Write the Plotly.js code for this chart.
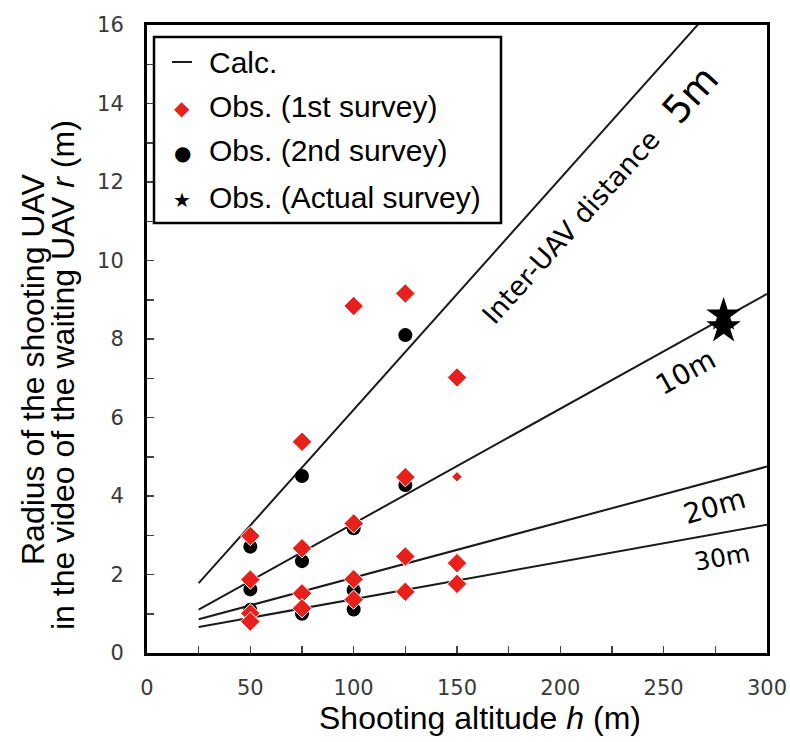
<!DOCTYPE html>
<html>
<head>
<meta charset="utf-8">
<script src="https://cdn.plot.ly/plotly-3.0.1.min.js"></script>
<style>html,body{margin:0;padding:0;background:#fff;}</style>
</head>
<body>
<div id="chart" style="width:790px;height:742px;"></div>
<script>
// Calculated lines (inter-UAV distance 5, 10, 20, 30 m)
const h_calc = [25, 300];
const r_calc_5m = [1.78, 17.98];
const r_calc_10m = [1.105, 9.15];
const r_calc_20m = [0.86, 4.75];
const r_calc_30m = [0.66, 3.27];

// Observations, 1st survey
const h_obs1 = [50, 50, 50, 50, 75, 75, 75, 75, 100, 100, 100, 100, 125, 125, 125, 125, 150, 150, 150, 150];
const r_obs1 = [2.98, 1.87, 1.01, 0.80, 5.38, 2.67, 1.52, 1.14, 8.84, 3.30, 1.88, 1.36, 9.16, 4.48, 2.46, 1.56, 7.02, 4.49, 2.29, 1.76];

// Observations, 2nd survey
const h_obs2 = [50, 50, 50, 75, 75, 75, 100, 100, 100, 125, 125];
const r_obs2 = [2.71, 1.62, 1.10, 4.51, 2.34, 1.00, 3.18, 1.60, 1.11, 8.10, 4.28];

// Observations, actual survey
const h_act = [279, 279];
const r_act = [8.61, 8.31];

const lineStyle = {color: '#1a1a1a', width: 2};
const calcSets = [r_calc_5m, r_calc_10m, r_calc_20m, r_calc_30m];
const traces = calcSets.map((r) => ({
  x: h_calc, y: r, type: 'scatter', mode: 'lines', line: lineStyle,
  name: 'Calc.', showlegend: false
}));

const obs1Sizes = r_obs1.map((v, i) => (i === 17 ? 8 : 15));

traces.push({
  x: h_obs2, y: r_obs2, type: 'scatter', mode: 'markers', name: 'Obs. (2nd survey)',
  marker: {symbol: 'circle', size: 14, color: '#000', opacity: 1}, showlegend: false
});
traces.push({
  x: h_obs1, y: r_obs1, type: 'scatter', mode: 'markers', name: 'Obs. (1st survey)',
  marker: {symbol: 'diamond', size: obs1Sizes, sizemode: 'diameter', color: '#e8201c', opacity: 1}, showlegend: false
});
traces.push({
  x: h_act, y: r_act, type: 'scatter', mode: 'markers', name: 'Obs. (Actual survey)',
  marker: {symbol: 'star', size: 26, color: '#000', opacity: 1}, showlegend: false
});

const tickFont = {family: 'DejaVu Sans', size: 21, color: '#3a3a3a'};
const labFont = 'DejaVu Sans';
const legFont = {family: 'Liberation Sans, Arial', size: 30, color: '#000'};

function px2x(px) { return (px - 147) / 620; }
function py2y(py) { return (653 - py) / 628; }

function ann(px, py, text, font, extra) {
  return Object.assign({xref: 'paper', yref: 'paper', x: px2x(px), y: py2y(py), text: text,
    showarrow: false, font: font, xanchor: 'center', yanchor: 'middle'}, extra || {});
}

const titleFont = {family: 'Liberation Sans, Arial', size: 32, color: '#000'};
const annotations = [
  // axis titles
  ann(480, 718, 'Shooting altitude <i>h</i> (m)', titleFont),
  ann(33, 370, 'Radius of the shooting UAV', titleFont, {textangle: -90}),
  ann(63, 375, 'in the video of the waiting UAV <i>r</i> (m)', titleFont, {textangle: -90}),
  // line labels
  ann(570, 227, 'Inter-UAV distance', {family: labFont, size: 27, color: '#000'}, {textangle: -48}),
  ann(690, 95, '5m', {family: labFont, size: 38, color: '#000'}, {textangle: -48}),
  ann(685, 372, '10m', {family: labFont, size: 28, color: '#000'}, {textangle: -29}),
  ann(714, 506, '20m', {family: labFont, size: 28, color: '#000'}, {textangle: -16}),
  ann(722, 557, '30m', {family: labFont, size: 25, color: '#000'}, {textangle: -10}),
  // legend
  ann(207, 62, 'Calc.', legFont, {xanchor: 'left'}),
  ann(207, 106, 'Obs. (1st survey)', legFont, {xanchor: 'left'}),
  ann(207, 151, 'Obs. (2nd survey)', legFont, {xanchor: 'left'}),
  ann(207, 197, 'Obs. (Actual survey)', legFont, {xanchor: 'left'}),
  ann(182, 108, '◆', {family: 'DejaVu Sans', size: 20, color: '#e8201c'}),
  ann(182, 153, '●', {family: 'DejaVu Sans', size: 20, color: '#000'}),
  ann(182, 200, '★', {family: 'DejaVu Sans', size: 20, color: '#000'})
];

const shapes = [
  {type: 'rect', xref: 'paper', yref: 'paper', x0: px2x(154), x1: px2x(501), y0: py2y(37), y1: py2y(223),
   line: {color: '#000', width: 2.5}, fillcolor: '#fff', layer: 'above'},
  {type: 'line', xref: 'paper', yref: 'paper', x0: px2x(172), x1: px2x(192), y0: py2y(62), y1: py2y(62),
   line: {color: '#1a1a1a', width: 2}, layer: 'above'}
];

const layout = {
  width: 790, height: 742,
  margin: {l: 147, r: 23, t: 25, b: 89},
  paper_bgcolor: '#fff', plot_bgcolor: '#fff',
  showlegend: false,
  xaxis: {
    range: [0, 300], dtick: 50, tick0: 0, ticks: 'inside', ticklen: 7, tickwidth: 1.5, tickcolor: '#444',
    minor: {dtick: 25, ticks: 'inside', ticklen: 7, tickwidth: 1.5, tickcolor: '#444'},
    showgrid: false, zeroline: false, showline: true, linecolor: '#000', linewidth: 3, mirror: true,
    tickfont: tickFont, ticklabelstandoff: 14
  },
  yaxis: {
    range: [0, 16], dtick: 2, tick0: 0, ticks: 'inside', ticklen: 7, tickwidth: 1.5, tickcolor: '#444',
    minor: {dtick: 1, ticks: 'inside', ticklen: 7, tickwidth: 1.5, tickcolor: '#444'},
    showgrid: false, zeroline: false, showline: true, linecolor: '#000', linewidth: 3, mirror: true,
    tickfont: tickFont, ticklabelstandoff: 16
  },
  annotations: annotations,
  shapes: shapes
};

Plotly.newPlot('chart', traces, layout, {displayModeBar: false, staticPlot: true});
</script>
</body>
</html>
